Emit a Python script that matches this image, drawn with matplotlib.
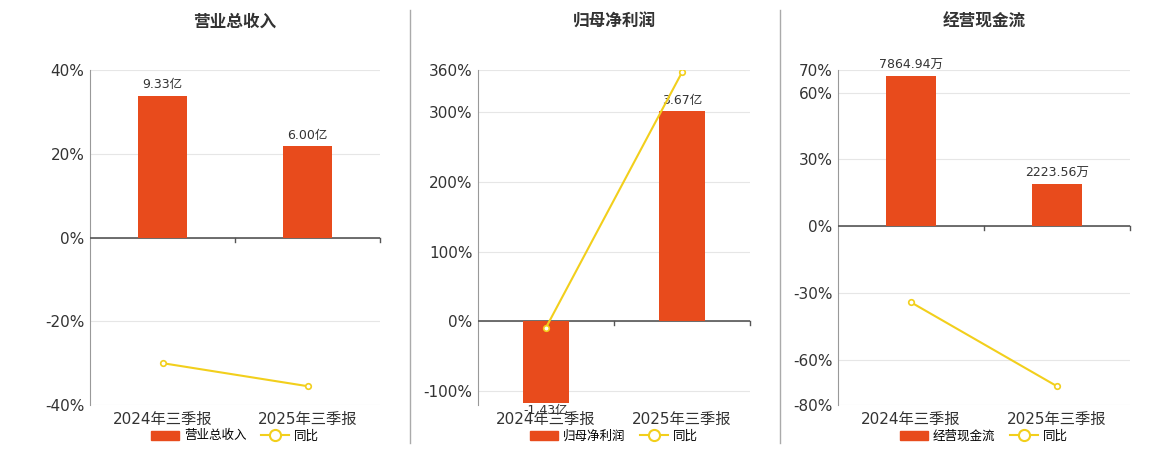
import matplotlib
matplotlib.use("Agg")
import matplotlib.pyplot as plt
from matplotlib.lines import Line2D
from matplotlib.patches import Patch
import matplotlib.transforms as mtrans

plt.rcParams['font.family'] = ['DejaVu Sans', 'Noto Sans CJK SC']

categories = ["2024年三季报", "2025年三季报"]
titles = ["营业总收入", "归母净利润", "经营现金流"]
bar_values = [[9.33, 6.00], [-1.43, 3.67], [7864.94, 2223.56]]
bar_labels = [["9.33亿", "6.00亿"], ["-1.43亿", "3.67亿"], ["7864.94万", "2223.56万"]]
yoy = [[-30.0, -35.5], [-9.0, 357.0], [-34.0, -71.6]]
pct_ticks = [[-40, -20, 0, 20, 40], [-100, 0, 100, 200, 300, 360], [-80, -60, -30, 0, 30, 60, 70]]
pct_lims = [(-40, 40), (-120, 360), (-80, 70)]
bar_scale = [40 / 11.0, 82.0, 1 / 116.5]  # pct per bar unit

BAR = '#E84B1C'
LINE = '#F2CF1C'

fig = plt.figure(figsize=(11.6, 4.5), dpi=100)
rects = [(90, 290), (478, 272), (838, 292)]
for i in range(3):
    l, w = rects[i]
    ax = fig.add_axes([l / 1160, 0.1, w / 1160, 0.744])
    lo, hi = pct_lims[i]
    ax.set_ylim(lo, hi)
    ax.set_xlim(-0.5, 1.5)
    ax.set_yticks(pct_ticks[i])
    ax.set_yticklabels([f"{t}%" for t in pct_ticks[i]], fontsize=11, color='#333333')
    ax.grid(axis='y', color='#E6E6E6', lw=0.8)
    ax.set_axisbelow(True)
    for s in ['top', 'right', 'bottom']:
        ax.spines[s].set_visible(False)
    ax.spines['left'].set_color('#999999')
    ax.tick_params(axis='y', length=0, pad=4)
    ax.tick_params(axis='x', length=0, pad=5)
    ax.set_xticks([0, 1])
    ax.set_xticklabels(categories, fontsize=11, color='#333333')
    fig.text((l + w / 2) / 1160, 1 - 22 / 450, titles[i], ha='center', va='center',
             fontsize=12, fontweight='bold', color='#333333')

    bx = ax.twinx()
    sc = bar_scale[i]
    bx.set_ylim(lo / sc, hi / sc)
    bx.axis('off')
    bx.bar([0, 1], bar_values[i], width=0.34, color=BAR, zorder=2)
    for x, v, t in zip([0, 1], bar_values[i], bar_labels[i]):
        bx.annotate(t, (x, v), xytext=(0, 3 if v >= 0 else -1), textcoords='offset points',
                    ha='center', va='bottom' if v >= 0 else 'top', fontsize=9, color='#333333')
    bx.plot([0, 1], [y / sc for y in yoy[i]], color=LINE, lw=1.5,
            marker='o', ms=4, mfc='white', mec=LINE, mew=1.2, zorder=3)
    ax.axhline(0, color='#555555', lw=1.2, zorder=3)
    for xb in [0.5, 1.5]:
        ax.plot([xb, xb], [0, -(hi - lo) * 0.012], color='#555555', lw=1, clip_on=False)
    handles = [Patch(color=BAR, label=titles[i]),
               Line2D([], [], color=LINE, lw=1.5, marker='o', ms=8, mfc='white', mec=LINE, mew=1.5, label='同比')]
    fig.legend(handles=handles, loc='center', bbox_to_anchor=((l + w / 2) / 1160, 1 - 436 / 450),
               ncol=2, frameon=False, fontsize=9, handlelength=2.2, columnspacing=1.2, handletextpad=0.4)

for xd in [410, 780]:
    fig.add_artist(Line2D([xd / 1160, xd / 1160], [1 - 443 / 450, 1 - 10 / 450], color='#AAAAAA', lw=1))

fig.savefig("out.png", dpi=100, facecolor='white')
